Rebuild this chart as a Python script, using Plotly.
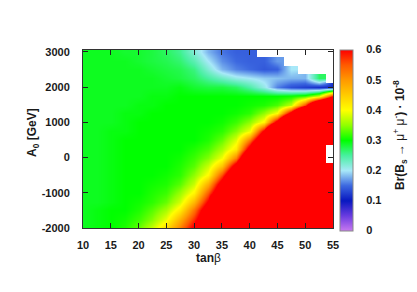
import plotly.graph_objects as go

NaN = float("nan")

# tan(beta) grid (columns) and A0 grid in GeV (rows)
tanb = [10, 12.5, 15, 17.5, 20, 22.5, 25, 27.5, 30, 32.5, 35, 37.5, 40, 42.5, 45, 47.5, 50, 52.5, 55]
a0 = [-2000, -1750, -1500, -1250, -1000, -750, -500, -250, 0, 250, 500, 750,
      1000, 1250, 1500, 1750, 2000, 2250, 2500, 2750, 3000]

# Br(Bs -> mu mu) * 1e8, one list per A0 row (values above 0.6 saturate red)
br_m2000 = [0.29, 0.295, 0.30, 0.31, 0.335, 0.375, 0.435, 0.52, 0.62, 1.0, 1.0, 1.0, 1.0, 1.0, 1.0, 1.0, 1.0, 1.0, 1.0]
br_m1750 = [0.29, 0.295, 0.30, 0.305, 0.32, 0.345, 0.39, 0.475, 0.575, 0.7, 1.0, 1.0, 1.0, 1.0, 1.0, 1.0, 1.0, 1.0, 1.0]
br_m1500 = [0.29, 0.295, 0.30, 0.30, 0.31, 0.33, 0.36, 0.42, 0.53, 0.67, 1.0, 1.0, 1.0, 1.0, 1.0, 1.0, 1.0, 1.0, 1.0]
br_m1250 = [0.29, 0.29, 0.295, 0.30, 0.305, 0.315, 0.335, 0.38, 0.47, 0.61, 1.0, 1.0, 1.0, 1.0, 1.0, 1.0, 1.0, 1.0, 1.0]
br_m1000 = [0.29, 0.29, 0.295, 0.30, 0.30, 0.31, 0.32, 0.355, 0.41, 0.55, 0.71, 1.0, 1.0, 1.0, 1.0, 1.0, 1.0, 1.0, 1.0]
br_m750 = [0.29, 0.29, 0.295, 0.30, 0.30, 0.305, 0.31, 0.33, 0.375, 0.48, 0.65, 1.0, 1.0, 1.0, 1.0, 1.0, 1.0, 1.0, 1.0]
br_m500 = [0.29, 0.29, 0.295, 0.30, 0.30, 0.30, 0.305, 0.315, 0.35, 0.405, 0.56, 0.76, 1.0, 1.0, 1.0, 1.0, 1.0, 1.0, 1.0]
br_m250 = [0.29, 0.29, 0.295, 0.30, 0.30, 0.30, 0.30, 0.31, 0.33, 0.375, 0.46, 0.65, 1.0, 1.0, 1.0, 1.0, 1.0, 1.0, 1.0]
br_0 = [0.29, 0.29, 0.295, 0.30, 0.30, 0.30, 0.30, 0.305, 0.32, 0.345, 0.395, 0.52, 0.81, 1.0, 1.0, 1.0, 1.0, 1.0, NaN]
br_250 = [0.29, 0.29, 0.295, 0.30, 0.30, 0.30, 0.30, 0.30, 0.31, 0.325, 0.36, 0.42, 0.65, 1.0, 1.0, 1.0, 1.0, 1.0, NaN]
br_500 = [0.29, 0.29, 0.295, 0.30, 0.30, 0.30, 0.30, 0.30, 0.30, 0.31, 0.335, 0.385, 0.53, 0.75, 1.0, 1.0, 1.0, 1.0, 1.0]
br_750 = [0.29, 0.29, 0.295, 0.295, 0.30, 0.30, 0.30, 0.30, 0.30, 0.305, 0.315, 0.345, 0.395, 0.62, 1.0, 1.0, 1.0, 1.0, 1.0]
br_1000 = [0.29, 0.29, 0.29, 0.295, 0.30, 0.30, 0.30, 0.30, 0.30, 0.30, 0.305, 0.32, 0.35, 0.41, 0.64, 1.0, 1.0, 1.0, 1.0]
br_1250 = [0.29, 0.29, 0.29, 0.295, 0.295, 0.30, 0.30, 0.30, 0.30, 0.30, 0.30, 0.305, 0.315, 0.35, 0.40, 0.64, 1.0, 1.0, 1.0]
br_1500 = [0.29, 0.29, 0.29, 0.29, 0.295, 0.295, 0.30, 0.30, 0.30, 0.30, 0.30, 0.30, 0.305, 0.31, 0.325, 0.37, 0.56, 0.89, 1.0]
br_1750 = [0.29, 0.29, 0.29, 0.29, 0.29, 0.295, 0.295, 0.30, 0.30, 0.30, 0.30, 0.30, 0.30, 0.30, 0.30, 0.305, 0.32, 0.38, 0.6]
br_2000 = [0.29, 0.29, 0.29, 0.29, 0.29, 0.29, 0.29, 0.295, 0.285, 0.28, 0.28, 0.27, 0.245, 0.21, 0.16, 0.135, 0.125, 0.115, 0.11]
br_2250 = [0.29, 0.29, 0.29, 0.29, 0.29, 0.29, 0.285, 0.28, 0.27, 0.25, 0.23, 0.21, 0.2, 0.19, 0.185, 0.18, 0.18, 0.27, NaN]
br_2500 = [0.29, 0.29, 0.29, 0.29, 0.29, 0.285, 0.28, 0.275, 0.26, 0.22, 0.18, 0.16, 0.15, 0.14, 0.145, 0.2, NaN, NaN, NaN]
br_2750 = [0.29, 0.29, 0.29, 0.29, 0.285, 0.28, 0.275, 0.265, 0.24, 0.2, 0.165, 0.15, 0.145, 0.145, 0.17, NaN, NaN, NaN, NaN]
br_3000 = [0.29, 0.29, 0.29, 0.285, 0.285, 0.28, 0.27, 0.255, 0.22, 0.18, 0.155, 0.145, 0.145, NaN, NaN, NaN, NaN, NaN, NaN]

br_rows = [br_m2000, br_m1750, br_m1500, br_m1250, br_m1000, br_m750, br_m500, br_m250,
           br_0, br_250, br_500, br_750, br_1000, br_1250, br_1500, br_1750,
           br_2000, br_2250, br_2500, br_2750, br_3000]

x_ticks = [10, 15, 20, 25, 30, 35, 40, 45, 50, 55]
x_ticklabels = ["10", "15", "20", "25", "30", "35", "40", "45", "50", "55"]
y_ticks = [-2000, -1000, 0, 1000, 2000, 3000]
y_ticklabels = ["-2000", "-1000", "0", "1000", "2000", "3000"]
cb_ticks = [0, 0.1, 0.2, 0.3, 0.4, 0.5, 0.6]
cb_ticklabels = ["0", "0.1", "0.2", "0.3", "0.4", "0.5", "0.6"]
Z_MAX = 0.6

colorscale = [
    [0.0, "#c878f0"],
    [0.0833, "#6a3ce0"],
    [0.1667, "#0818c0"],
    [0.25, "#3c68e0"],
    [0.3333, "#a8e8f8"],
    [0.4167, "#48f0a0"],
    [0.5, "#00ff00"],
    [0.5833, "#90ff00"],
    [0.6667, "#ffff00"],
    [0.75, "#ffcc00"],
    [0.8333, "#ff9900"],
    [0.9167, "#ff5a00"],
    [1.0, "#ff0000"],
]

FONT = "Liberation Sans, Arial, Helvetica, sans-serif"

# page layout (browser body has an 8px default margin, so the figure is shifted)
PAGE_W, PAGE_H, BODY = 417, 292, 8
PLOT_L, PLOT_R, PLOT_T, PLOT_B = 83, 333, 50, 228          # plot area in page pixels
W, H = PAGE_W - BODY, PAGE_H - BODY
ML, MT = PLOT_L - BODY, PLOT_T - BODY
MR, MB = PAGE_W - PLOT_R, PAGE_H - PLOT_B
PW, PH = PLOT_R - PLOT_L, PLOT_B - PLOT_T


def px(xp):
    return (xp - PLOT_L) / PW


def py(yp):
    return (PLOT_B - yp) / PH


CB_X_PX, CB_THICK, CB_LEN, CB_TOP_PX = 340, 13, 181, 49.5

fig = go.Figure(
    go.Heatmap(
        x=tanb, y=a0, z=br_rows,
        zmin=0, zmax=Z_MAX, zsmooth="best",
        colorscale=colorscale,
        colorbar=dict(
            x=px(CB_X_PX), xanchor="left", xpad=0,
            y=py(CB_TOP_PX + CB_LEN / 2), yanchor="middle", ypad=0,
            len=CB_LEN, lenmode="pixels",
            thickness=CB_THICK, thicknessmode="pixels",
            outlinewidth=1, outlinecolor="#888888",
            tickvals=cb_ticks, ticktext=cb_ticklabels,
            ticks="outside", ticklen=11, tickcolor="rgba(0,0,0,0)",
            tickfont=dict(family=FONT, size=11, color="#1a1a1a", weight="bold"),
        ),
        hoverinfo="skip",
    )
)

# small inner tick dashes on both edges of the colour bar
for v in cb_ticks[1:-1]:
    ypx = CB_TOP_PX + CB_LEN * (1 - v / Z_MAX)
    for x0p, x1p in ((CB_X_PX, CB_X_PX + 3), (CB_X_PX + CB_THICK - 3, CB_X_PX + CB_THICK)):
        fig.add_shape(type="line", xref="paper", yref="paper",
                      x0=px(x0p), x1=px(x1p), y0=py(ypx), y1=py(ypx),
                      line=dict(color="#333333", width=1))

axis_common = dict(
    ticks="inside", ticklen=5, tickwidth=1, tickcolor="#222222",
    showline=True, linecolor="#333333", linewidth=1, mirror="ticks",
    showgrid=False, zeroline=False, automargin=False,
    tickfont=dict(family=FONT, size=11, color="#1a1a1a", weight="bold"),
)

fig.update_xaxes(range=[10, 55], tickvals=x_ticks, ticktext=x_ticklabels,
                 ticklabelstandoff=7, **axis_common)
fig.update_yaxes(range=[-2000, 3050], tickvals=y_ticks, ticktext=y_ticklabels,
                 ticklabelstandoff=10, **axis_common)

title_font = dict(family=FONT, size=12, color="#1a1a1a")
fig.add_annotation(x=px(208), y=py(258), xref="paper", yref="paper",
                   text="<b>tan</b>β", showarrow=False, font=title_font,
                   xanchor="center", yanchor="middle")
fig.add_annotation(x=px(33), y=py(133), xref="paper", yref="paper",
                   text="<b>A<sub>0</sub> [GeV]</b>", textangle=-90, showarrow=False,
                   font=title_font, xanchor="center", yanchor="middle")
fig.add_annotation(x=px(400), y=py(135), xref="paper", yref="paper",
                   text="<b>Br(B<sub>s</sub></b> → μ<sup>+</sup> μ<sup>-</sup><b>) · 10<sup>-8</sup></b>",
                   textangle=-90, showarrow=False, font=title_font,
                   xanchor="center", yanchor="middle")

fig.update_layout(
    width=W, height=H,
    margin=dict(l=ML, r=MR, t=MT, b=MB, autoexpand=False),
    paper_bgcolor="white", plot_bgcolor="white",
    font=dict(family=FONT, size=11, color="#1a1a1a"),
)

fig.write_html("out.html")
